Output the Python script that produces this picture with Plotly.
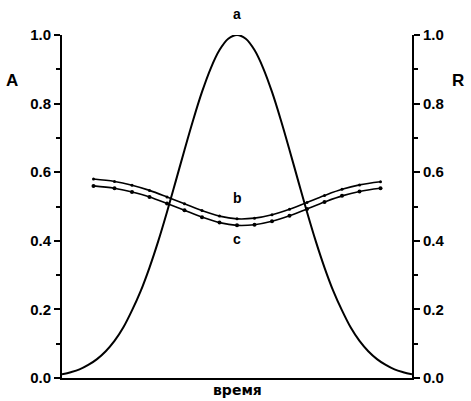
import plotly.graph_objects as go

# curve a (absorbance), time 0..20
t_a = [0, 0.5, 1, 1.5, 2, 2.5, 3, 3.5, 4, 4.5, 5, 5.5, 6, 6.5, 7, 7.5, 8, 8.5, 9, 9.5, 10,
       10.5, 11, 11.5, 12, 12.5, 13, 13.5, 14, 14.5, 15, 15.5, 16, 16.5, 17, 17.5, 18, 18.5, 19, 19.5, 20]
a_vals = [0.011, 0.017, 0.025, 0.038, 0.055, 0.078, 0.108, 0.147, 0.197, 0.254, 0.322,
          0.399, 0.484, 0.574, 0.665, 0.753, 0.834, 0.903, 0.956, 0.989, 1.0,
          0.989, 0.956, 0.903, 0.834, 0.753, 0.665, 0.574, 0.484, 0.399, 0.322,
          0.254, 0.197, 0.147, 0.108, 0.078, 0.055, 0.038, 0.025, 0.017, 0.011]

# curves b and c (reflectance)
t_bc = [1.8, 3, 4, 5, 6, 7, 8, 9, 10, 11, 12, 13, 14, 15, 16, 17, 18.2]
b_vals = [0.580, 0.573, 0.562, 0.547, 0.528, 0.508, 0.488, 0.472, 0.464, 0.466,
          0.476, 0.492, 0.512, 0.532, 0.550, 0.563, 0.572]
c_vals = [0.560, 0.553, 0.542, 0.528, 0.509, 0.489, 0.469, 0.453, 0.445, 0.447,
          0.457, 0.473, 0.493, 0.513, 0.531, 0.544, 0.553]

y_ticks = [0.0, 0.2, 0.4, 0.6, 0.8, 1.0]
y_ticklabels = ["0.0", "0.2", "0.4", "0.6", "0.8", "1.0"]

fig = go.Figure()
fig.add_trace(go.Scatter(x=t_a, y=a_vals, mode="lines",
                         line=dict(color="black", width=2, shape="spline"), showlegend=False))
fig.add_trace(go.Scatter(x=t_bc, y=b_vals, mode="lines+markers",
                         line=dict(color="black", width=1.6, shape="spline"),
                         marker=dict(size=3, color="black"), showlegend=False))
fig.add_trace(go.Scatter(x=t_bc, y=c_vals, mode="lines+markers",
                         line=dict(color="black", width=1.6, shape="spline"),
                         marker=dict(size=4, color="black"), showlegend=False, yaxis="y2"))

tickfont = dict(family="Liberation Sans, Arial, sans-serif", size=15, color="black")
axis_common = dict(range=[0, 1], tickvals=y_ticks,
                   ticktext=["<b>" + s + "</b>" for s in y_ticklabels],
                   ticks="outside", ticklen=6, tickwidth=1.5, tickcolor="black",
                   showline=True, linecolor="black", linewidth=2, showgrid=False,
                   zeroline=False, tickfont=tickfont,
                   minor=dict(ticks="outside", ticklen=4, tickwidth=1.5, tickcolor="black",
                              dtick=0.1, showgrid=False))

fig.update_layout(
    width=471, height=401,
    margin=dict(l=62, r=59, t=35, b=23),
    paper_bgcolor="white", plot_bgcolor="white",
    xaxis=dict(range=[0, 20], showticklabels=False, ticks="", showline=True,
               linecolor="black", linewidth=2, showgrid=False, zeroline=False),
    yaxis=dict(side="left", **axis_common),
    yaxis2=dict(side="right", overlaying="y", **axis_common),
    font=dict(family="Liberation Sans, Arial, sans-serif", color="black"),
)

labfont = dict(family="Liberation Sans, Arial, sans-serif", size=14, color="black")
fig.add_annotation(x=10, y=1.0, text="<b>a</b>", showarrow=False, yshift=21, font=labfont)
fig.add_annotation(x=10, y=0.525, text="<b>b</b>", showarrow=False, font=labfont)
fig.add_annotation(x=10, y=0.405, text="<b>c</b>", showarrow=False, font=labfont)
fig.add_annotation(xref="paper", yref="paper", x=-0.165, y=0.9, text="<b>A</b>",
                   showarrow=False, font=dict(family="Liberation Sans, Arial", size=17, color="black"))
fig.add_annotation(xref="paper", yref="paper", x=1.155, y=0.9, text="<b>R</b>",
                   showarrow=False, font=dict(family="Liberation Sans, Arial", size=17, color="black"))
fig.add_annotation(xref="paper", yref="paper", x=0.5, y=0, yshift=-12, yanchor="middle",
                   text="<b>время</b>", showarrow=False,
                   font=dict(family="DejaVu Sans, sans-serif", size=14, color="black"))

fig.write_html("out.html")
